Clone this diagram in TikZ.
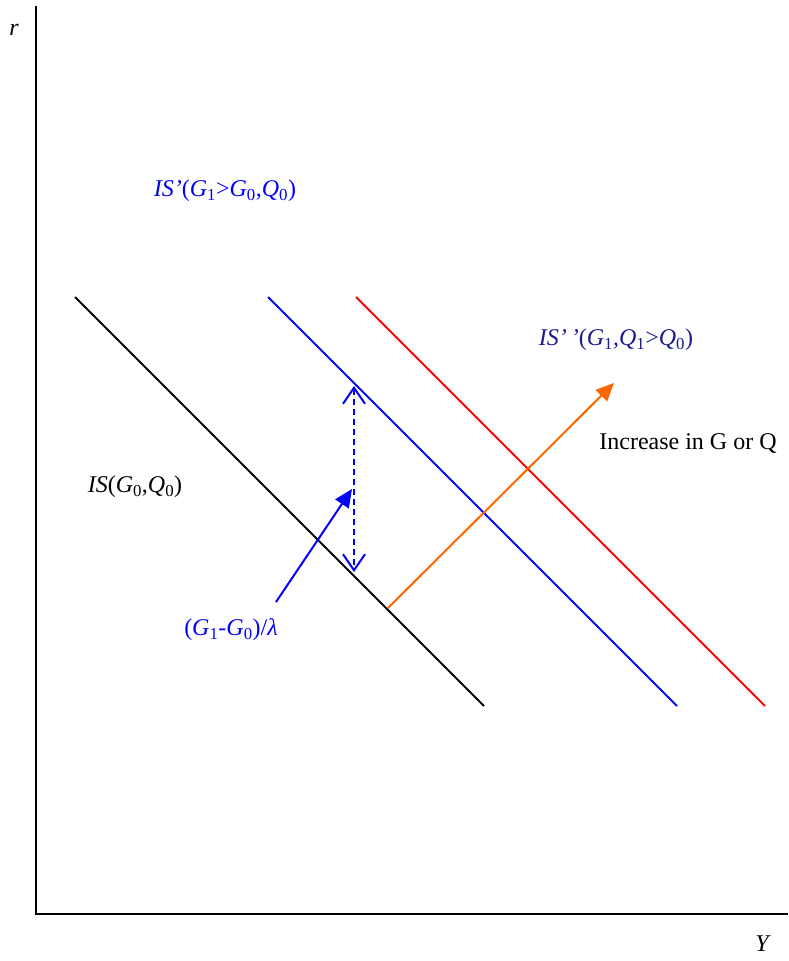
\documentclass[tikz,border=0pt]{standalone}
\usepackage{fontspec}
\setmainfont{Liberation Serif}
\usetikzlibrary{arrows.meta,positioning}
\definecolor{isnavy}{RGB}{26,26,140}
\definecolor{shiftorange}{RGB}{255,102,0}
\newcommand{\sbs}[1]{\textsubscript{\upshape #1}}

\begin{document}
\begin{tikzpicture}[x=1pt,y=-1pt]
\tikzset{lbl/.style={font=\fontsize{24}{28}\selectfont,inner sep=0pt},
  curve/.style={line width=2pt},
  shiftarrow/.style={line width=2pt,-{Triangle[length=18pt,width=16pt]}},
  gaparrow/.style={line width=2pt,dash pattern=on 6pt off 4pt,{Straight Barb[length=16pt,width=22pt]}-{Straight Barb[length=16pt,width=22pt]}}}
\useasboundingbox (0,0) rectangle (788,961);
% axes
\coordinate (top) at (36,6);
\coordinate (org) at (36,914);
\coordinate (right) at (788,914);
\draw[line width=2.4pt] (top) -- (org) -- (right);
\node[lbl,font=\fontsize{24}{28}\selectfont\itshape] (r) at (14,30) {r};
\node[lbl,font=\fontsize{24}{28}\selectfont\itshape] (Y) at (762,944) {Y};
% IS curves
\coordinate (is0a) at (75,297);  \coordinate (is0b) at (484,706);
\coordinate (is1a) at (268,297); \coordinate (is1b) at (677,706);
\coordinate (is2a) at (356,297); \coordinate (is2b) at (765,706);
\draw[curve,black] (is0a) -- (is0b);
\draw[curve,blue] (is1a) -- (is1b);
\draw[curve,red] (is2a) -- (is2b);
% shifts
\coordinate (oa) at (388,608); \coordinate (ob) at (614,383);
\draw[shiftarrow,shiftorange] (oa) -- (ob);
\coordinate (ga) at (354,386); \coordinate (gb) at (354,572);
\draw[gaparrow,blue] (ga) -- (gb);
\coordinate (ba) at (276,602); \coordinate (bb) at (352,489);
\draw[shiftarrow,blue] (ba) -- (bb);
% labels
\node[lbl,blue] (lis1) at (225,191) {\textit{IS’}(\textit{G}\sbs{1}>\textit{G}\sbs{0},\textit{Q}\sbs{0})};
\node[lbl,isnavy] (lis2) at (616,340) {\textit{IS’\,’}(\textit{G}\sbs{1},\textit{Q}\sbs{1}>\textit{Q}\sbs{0})};
\node[lbl] (linc) at (688,443) {Increase in G or Q};
\node[lbl] (lis0) at (135,487) {\textit{IS}(\textit{G}\sbs{0},\textit{Q}\sbs{0})};
\node[lbl,blue] (llam) at (231,630) {(\textit{G}\sbs{1}-\textit{G}\sbs{0})/\textit{λ}};
\end{tikzpicture}
\end{document}
